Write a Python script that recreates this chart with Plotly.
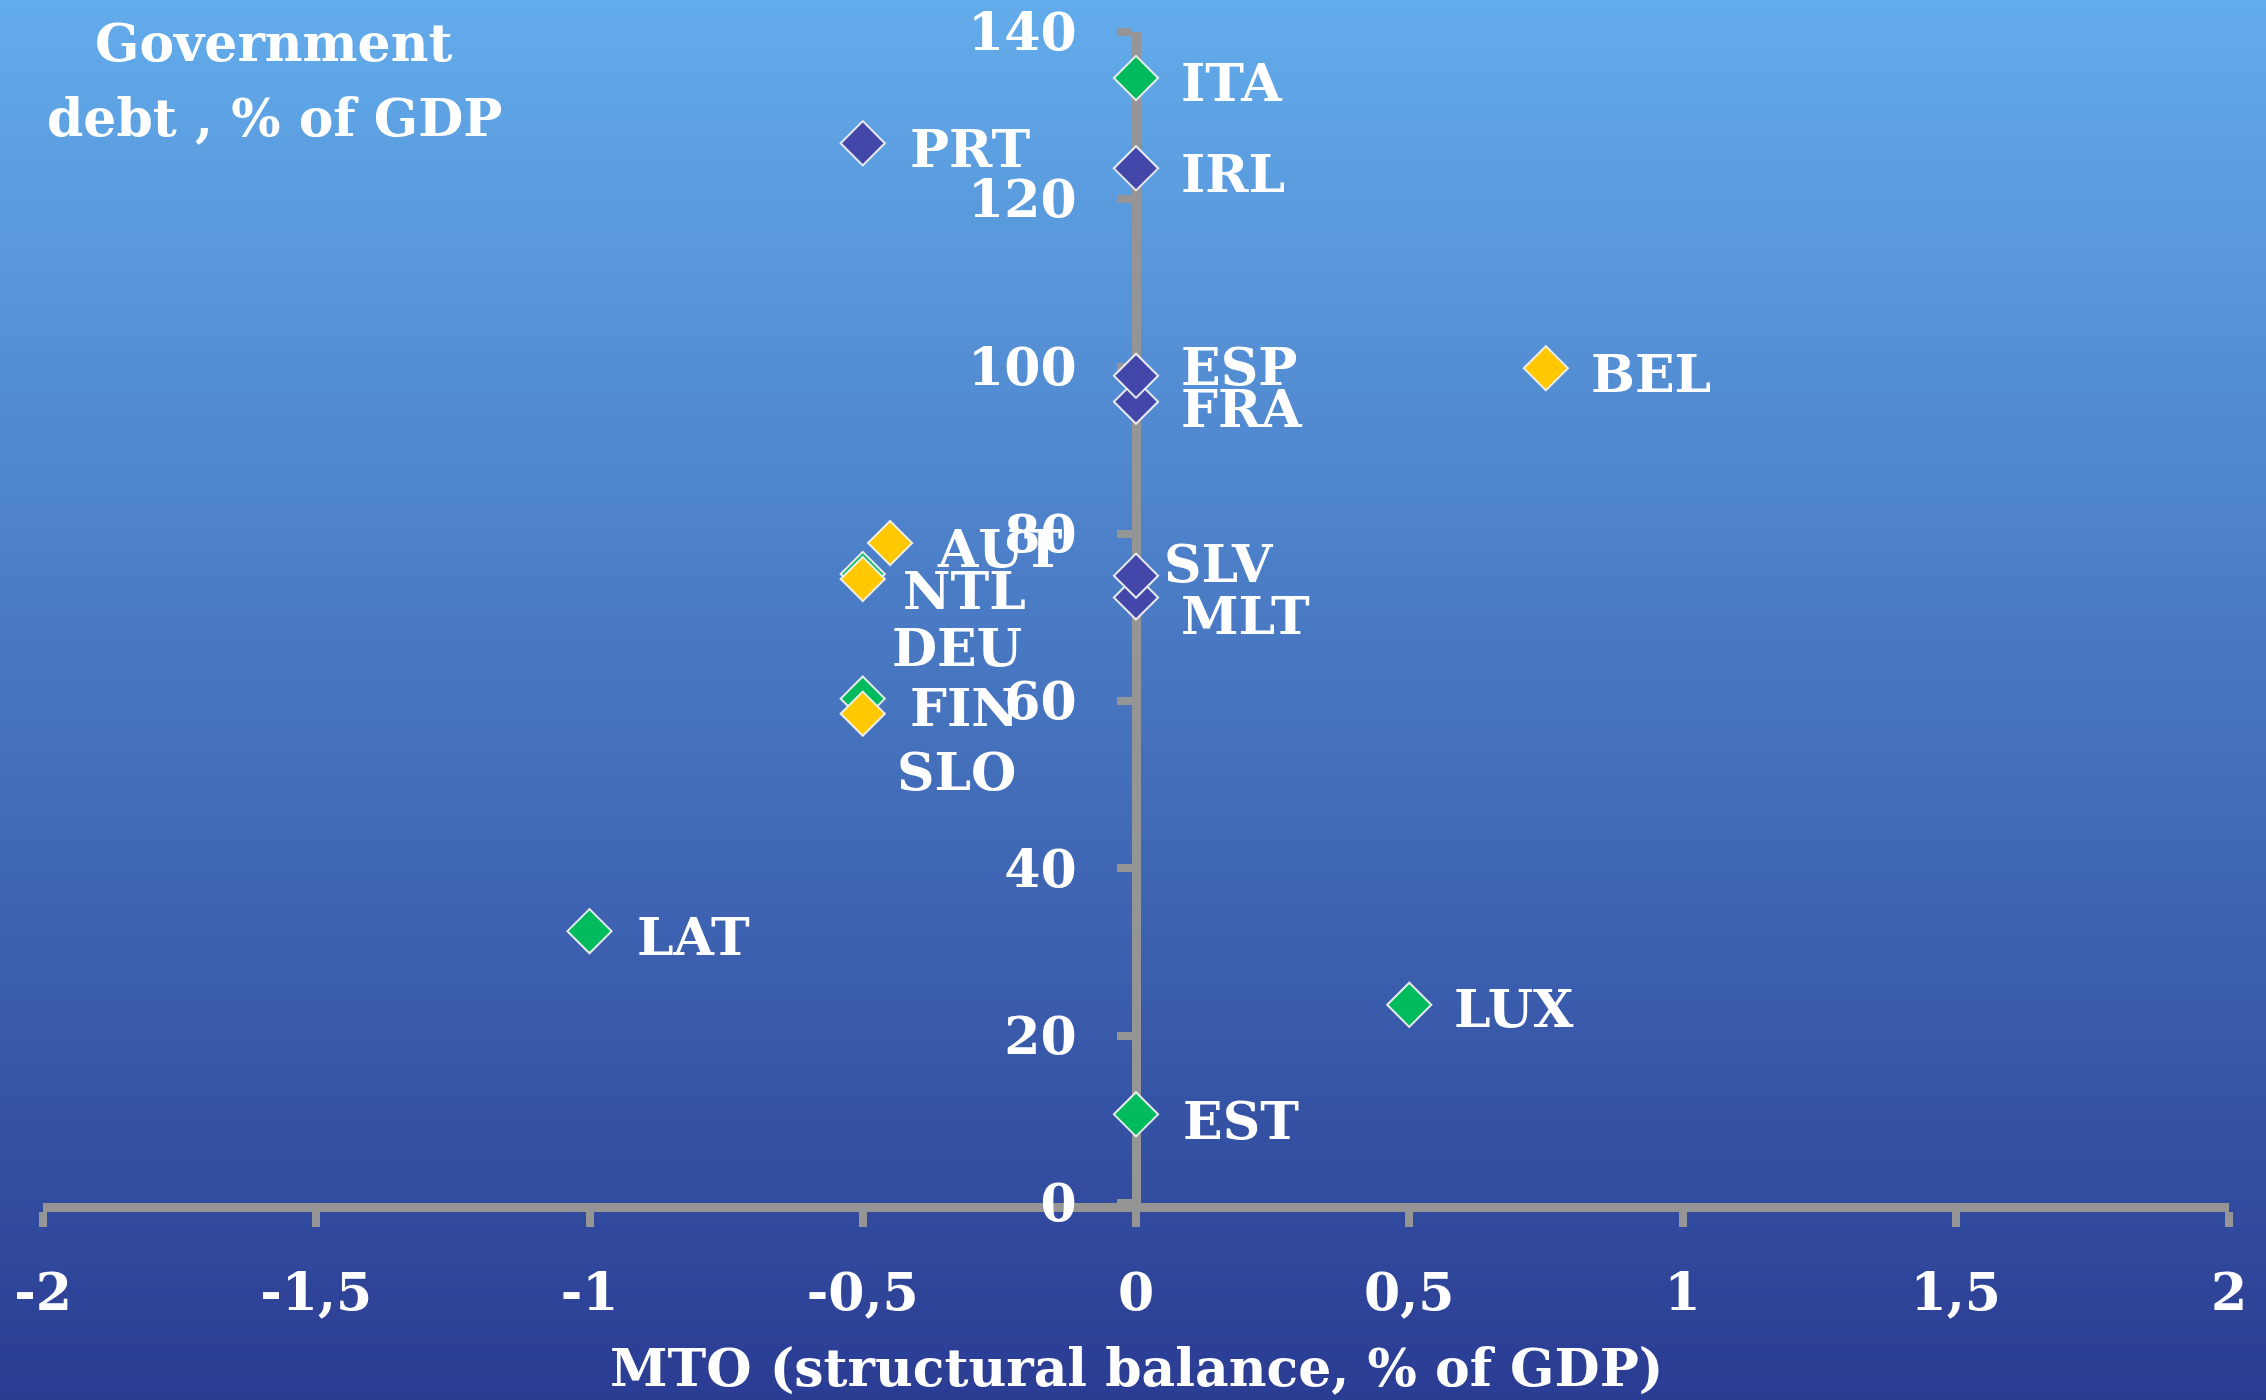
import plotly.graph_objects as go

# Country groups: MTO (structural balance, % of GDP) vs government debt (% of GDP)
green_names = ["ITA", "EST", "LAT", "LUX", "DEU", "FIN"]
green_mto = [0, 0, -1, 0.5, -0.5, -0.5]
green_debt = [134.5, 10.6, 32.5, 23.7, 75.2, 60.3]

blue_names = ["PRT", "IRL", "FRA", "ESP", "MLT", "SLV"]
blue_mto = [-0.5, 0, 0, 0, 0, 0]
blue_debt = [126.7, 123.7, 95.8, 98.9, 72.4, 75.0]

yellow_names = ["BEL", "AUT", "NTL", "SLO"]
yellow_mto = [0.75, -0.45, -0.5, -0.5]
yellow_debt = [99.8, 78.9, 74.6, 58.5]

x_tick_vals = [-2, -1.5, -1, -0.5, 0, 0.5, 1, 1.5, 2]
x_tick_text = ["-2", "-1,5", "-1", "-0,5", "0", "0,5", "1", "1,5", "2"]
y_tick_vals = [0, 20, 40, 60, 80, 100, 120, 140]

# label placement relative to each marker, in pixels (dx right, dy up)
label_shift = {
    "ITA": (43, -4), "IRL": (43, -5), "PRT": (45, -5), "ESP": (43, 9),
    "FRA": (43, -7), "BEL": (43, -5), "AUT": (45, -5), "NTL": (38, -11),
    "DEU": (27, -73), "FIN": (45, -9), "SLO": (32, -58), "SLV": (26, 12),
    "MLT": (43, -18), "LAT": (45, -5), "LUX": (43, -4), "EST": (45, -6),
}

FONT = "DejaVu Serif"
AXIS_GREY = "#959595"
W, H = 2266, 1400
ML, MR, MT, MB = 43, 37, 32, 197

fig = go.Figure()

series = [
    (green_names, green_mto, green_debt, "#00BA5E"),
    (blue_names, blue_mto, blue_debt, "#4347A9"),
    (yellow_names, yellow_mto, yellow_debt, "#FFC800"),
]
for names, xs, ys, color in series:
    fig.add_trace(go.Scatter(
        x=xs, y=ys, mode="markers", text=names, showlegend=False,
        marker=dict(symbol="diamond", size=34, color=color,
                    line=dict(color="rgba(240,240,240,0.95)", width=2)),
        cliponaxis=False,
    ))

annotations = []
for names, xs, ys, _ in series:
    for n, xv, yv in zip(names, xs, ys):
        dx, dy = label_shift[n]
        annotations.append(dict(
            x=xv, y=yv, xref="x", yref="y", text=n, showarrow=False,
            xanchor="left", yanchor="middle", xshift=dx, yshift=dy,
            font=dict(family=FONT, size=52, color="white", weight="bold"),
        ))

pw = W - ML - MR
ph = H - MT - MB
title_font = dict(family=FONT, size=52, color="white", weight="bold")


def paper_y(px_from_top):
    return (H - MB - px_from_top) / ph


annotations += [
    dict(text="Government", xref="paper", yref="paper",
         x=(274 - ML) / pw, y=paper_y(42), showarrow=False,
         xanchor="center", yanchor="middle", font=title_font),
    dict(text="debt , % of GDP", xref="paper", yref="paper",
         x=(274 - ML) / pw, y=paper_y(117), showarrow=False,
         xanchor="center", yanchor="middle", font=title_font),
    dict(text="MTO (structural balance, % of GDP)", xref="paper", yref="paper",
         x=0.5, y=paper_y(1367), showarrow=False,
         xanchor="center", yanchor="middle", font=title_font),
]

# vertical blue gradient background built from thin bands
top_rgb = (99, 173, 236)
bot_rgb = (42, 59, 146)
n_bands = 140
y_top = 1 + MT / ph + 0.01
y_bot = -MB / ph - 0.01
shapes = []
for i in range(n_bands):
    t = (i + 0.5) / n_bands
    c = tuple(round(a + (b - a) * t) for a, b in zip(top_rgb, bot_rgb))
    y0 = y_top + (y_bot - y_top) * i / n_bands
    y1 = y_top + (y_bot - y_top) * (i + 1) / n_bands
    shapes.append(dict(
        type="rect", xref="paper", yref="paper", x0=-0.05, x1=1.05,
        y0=y1 - 0.001, y1=y0 + 0.001, line=dict(width=0),
        fillcolor="rgb(%d,%d,%d)" % c, layer="below",
    ))

tick_font = dict(family=FONT, size=52, color="white", weight="bold")
fig.update_layout(
    width=W, height=H,
    margin=dict(l=ML, r=MR, t=MT, b=MB),
    paper_bgcolor="#4775C0", plot_bgcolor="rgba(0,0,0,0)",
    shapes=shapes, annotations=annotations,
    xaxis=dict(
        range=[-2, 2], tickvals=x_tick_vals, ticktext=x_tick_text,
        showgrid=False, zeroline=False, showline=True, linecolor=AXIS_GREY,
        linewidth=9, ticks="outside", ticklen=15, tickwidth=8,
        tickcolor=AXIS_GREY, tickfont=tick_font, ticklabelstandoff=21,
        ticklabeloverflow="allow", automargin=False,
        layer="below traces",
    ),
    yaxis=dict(
        range=[0, 140], tickvals=y_tick_vals,
        anchor="free", position=0.5, side="left",
        showgrid=False, zeroline=False, showline=True, linecolor=AXIS_GREY,
        linewidth=9, ticks="outside", ticklen=15, tickwidth=8,
        tickcolor=AXIS_GREY, tickfont=tick_font, ticklabelstandoff=30,
        ticklabeloverflow="allow", automargin=False,
        layer="below traces",
    ),
)

fig.write_html("out.html")
